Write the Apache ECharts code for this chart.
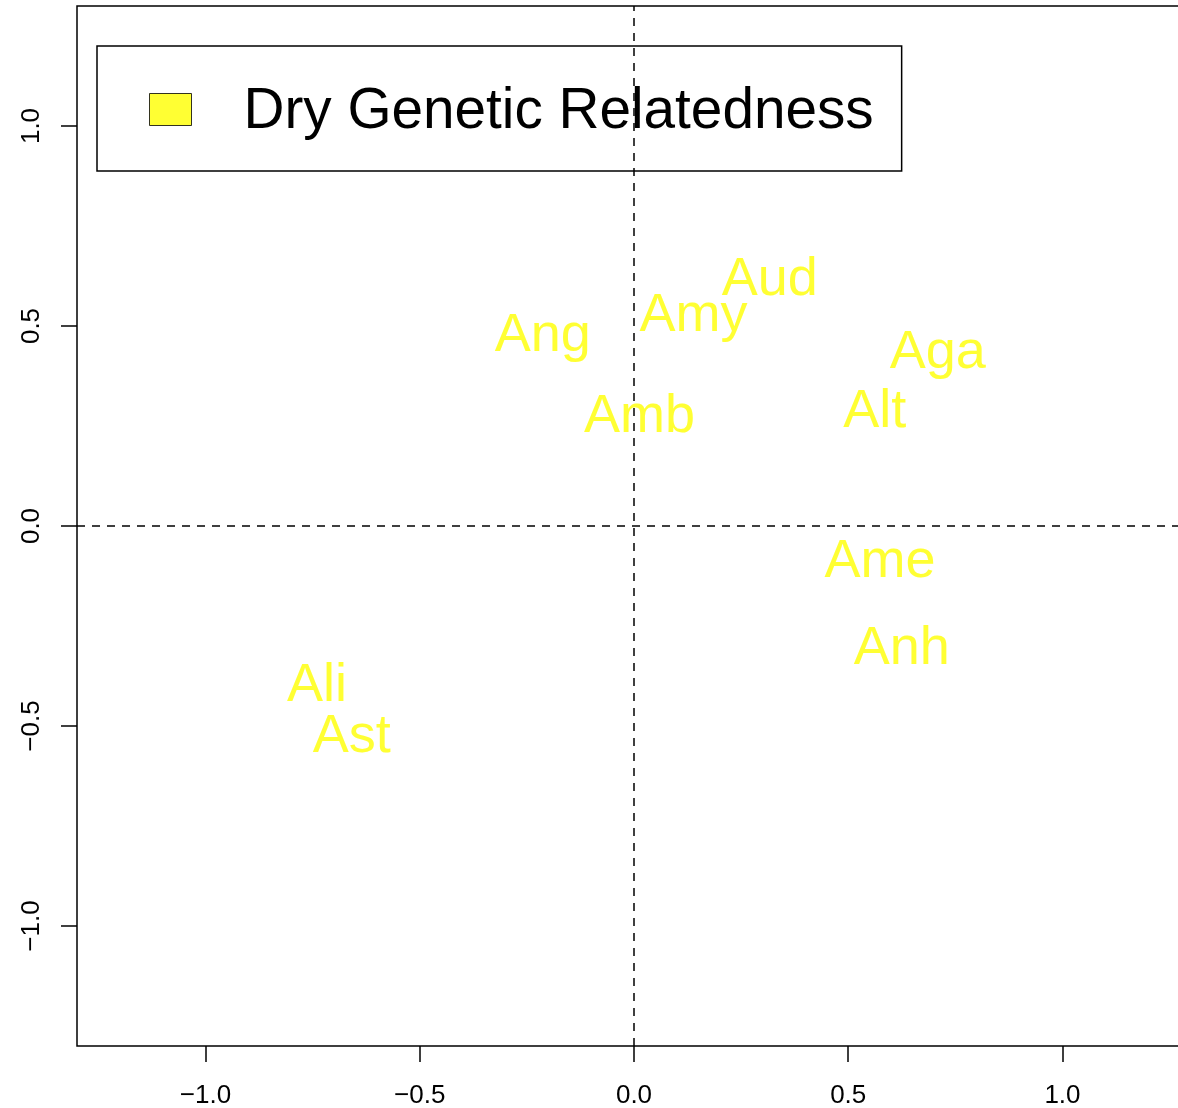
<!DOCTYPE html>
<html>
<head>
<meta charset="utf-8">
<script src="https://cdn.jsdelivr.net/npm/echarts@6/dist/echarts.min.js"></script>
<style>
html,body{margin:0;padding:0;background:#fff;}
#chart{width:1178px;height:1108px;}
</style>
</head>
<body>
<div id="chart"></div>
<script>
const seriesName = 'Dry Genetic Relatedness';
const labels = ['Aud', 'Amy', 'Ang', 'Amb', 'Aga', 'Alt', 'Ame', 'Anh', 'Ali', 'Ast'];
const xValues = [0.317, 0.139, -0.213, 0.013, 0.709, 0.562, 0.574, 0.625, -0.740, -0.659];
const yValues = [0.625, 0.534, 0.484, 0.281, 0.443, 0.294, -0.081, -0.299, -0.391, -0.517];
const tickValues = [-1.0, -0.5, 0.0, 0.5, 1.0];
const axisMin = -1.3, axisMax = 1.3;

const FONT = "'Liberation Sans', Arial, Helvetica, sans-serif";
const points = labels.map((n, i) => ({ name: n, value: [xValues[i], yValues[i]] }));
const fmt = v => (v < 0 ? '\u2212' : '') + Math.abs(v).toFixed(1);

const chart = echarts.init(document.getElementById('chart'), null, { renderer: 'canvas' });
chart.setOption({
  backgroundColor: '#ffffff',
  animation: false,
  grid: {
    left: 77, top: 6, width: 1114, height: 1040,
    outerBoundsMode: 'none', containLabel: false,
    show: true, borderColor: '#000', borderWidth: 1.5, backgroundColor: 'transparent'
  },
  legend: {
    left: 97, top: 46,
    orient: 'horizontal',
    padding: [32, 28, 30, 52],
    borderColor: '#000', borderWidth: 1.5, borderRadius: 0,
    backgroundColor: 'transparent',
    itemWidth: 42, itemHeight: 32,
    selectedMode: false,
    formatter: n => '{t|' + n + '}',
    textStyle: {
      color: '#000', fontSize: 56.7, fontFamily: FONT, padding: [0, 0, 0, 47],
      rich: { t: { color: '#000', fontSize: 56.7, fontFamily: FONT, lineHeight: 54, padding: [6, 0, 0, 0] } }
    },
    data: [{ name: seriesName, icon: 'rect', itemStyle: { color: '#ffff00', borderColor: '#000', borderWidth: 1 } }]
  },
  xAxis: {
    type: 'value', min: axisMin, max: axisMax,
    splitLine: { show: false },
    axisLine: { show: false, onZero: false },
    axisTick: { show: true, length: 16, inside: false, customValues: tickValues, lineStyle: { color: '#000', width: 1.5 } },
    axisLabel: { show: true, customValues: tickValues, formatter: fmt, margin: 37, color: '#000', fontSize: 26, fontFamily: FONT }
  },
  yAxis: {
    type: 'value', min: axisMin, max: axisMax,
    splitLine: { show: false },
    axisLine: { show: false, onZero: false },
    axisTick: { show: true, length: 16, inside: false, customValues: tickValues, lineStyle: { color: '#000', width: 1.5 } },
    axisLabel: { show: true, customValues: tickValues, formatter: fmt, rotate: 90, margin: 32, color: '#000', fontSize: 26, fontFamily: FONT }
  },
  series: [{
    name: seriesName,
    type: 'scatter',
    symbolSize: 0,
    itemStyle: { color: '#ffff00' },
    data: points,
    label: {
      show: true, position: 'inside', formatter: p => p.name, offset: [0, 4],
      color: '#ffff00', fontSize: 54, fontFamily: FONT,
      align: 'center', verticalAlign: 'middle'
    },
    markLine: {
      silent: true, symbol: ['none', 'none'], z: 10,
      label: { show: false },
      lineStyle: { color: '#000', type: [8, 7], width: 1.5 },
      data: [{ xAxis: 0 }, { yAxis: 0 }]
    }
  }]
});
</script>
</body>
</html>
